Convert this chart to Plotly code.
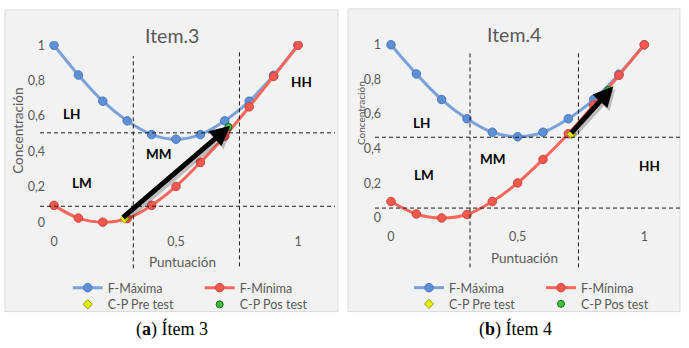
import plotly.graph_objects as go

# ---------------- data ----------------
puntuacion = [0.0, 0.1, 0.2, 0.3, 0.4, 0.5, 0.6, 0.7, 0.8, 0.9, 1.0]
f_maxima = [1.0, 0.832, 0.684, 0.573, 0.495, 0.469, 0.495, 0.573, 0.684, 0.83, 1.0]
f_minima = [0.095, 0.023, 0.0, 0.02, 0.095, 0.202, 0.338, 0.486, 0.652, 0.824, 1.0]

item3_pre = (0.29, 0.02)
item3_pos = (0.715, 0.54)
item4_pre = (0.713, 0.483)
item4_pos = (0.858, 0.74)

x_ticks = [0, 0.5, 1]
y_ticks = [0, 0.2, 0.4, 0.6, 0.8, 1]

item3_vlines = [0.325, 0.76]
item3_hlines = [0.505, 0.09]
item4_vlines = [0.312, 0.74]
item4_hlines = [0.466, 0.057]

item3_regions = {"LH": (0.07, 0.613), "MM": (0.432, 0.385), "HH": (1.015, 0.792), "LM": (0.113, 0.224)}
item4_regions = {"LH": (0.12, 0.551), "MM": (0.404, 0.341), "HH": (1.02, 0.30), "LM": (0.13, 0.25)}

# ---------------- styling ----------------
W, H = 689, 348
FONT = "Lato"
GREY = "#595959"
BLUE = "#7ba1d9"
BLUE_M = "#5f8fd4"
BLUE_O = "#4a78bd"
RED = "#f7675c"
RED_M = "#f2584d"
RED_O = "#c9463d"


def px(x):
    return x / W


def py(y):
    return 1 - y / H


fig = go.Figure()

panels = [
    dict(xa="x", ya="y", pre=item3_pre, pos=item3_pos, leg=("legend", "legend2"),
         vl=item3_vlines, hl=item3_hlines, reg=item3_regions, title="Item.3"),
    dict(xa="x2", ya="y2", pre=item4_pre, pos=item4_pos, leg=("legend3", "legend4"),
         vl=item4_vlines, hl=item4_hlines, reg=item4_regions, title="Item.4"),
]

for p in panels:
    fig.add_trace(go.Scatter(x=puntuacion, y=f_maxima, name="F-Máxima", mode="lines+markers",
                             line=dict(color=BLUE, width=3, shape="spline"),
                             marker=dict(size=8.5, color=BLUE_M, line=dict(color=BLUE_O, width=1)),
                             xaxis=p["xa"], yaxis=p["ya"], legend=p["leg"][0]))
    fig.add_trace(go.Scatter(x=puntuacion, y=f_minima, name="F-Mínima", mode="lines+markers",
                             line=dict(color=RED, width=3, shape="spline"),
                             marker=dict(size=8.5, color=RED_M, line=dict(color=RED_O, width=1)),
                             xaxis=p["xa"], yaxis=p["ya"], legend=p["leg"][0]))
    fig.add_trace(go.Scatter(x=[p["pre"][0]], y=[p["pre"][1]], name="C-P Pre test", mode="markers",
                             marker=dict(symbol="diamond", size=7, color="#e5f000",
                                         line=dict(color="#8f9a10", width=1)),
                             xaxis=p["xa"], yaxis=p["ya"], legend=p["leg"][1]))
    fig.add_trace(go.Scatter(x=[p["pos"][0]], y=[p["pos"][1]], name="C-P Pos test", mode="markers",
                             marker=dict(symbol="circle", size=7, color="#3cbf3c",
                                         line=dict(color="#1d6b1d", width=1)),
                             xaxis=p["xa"], yaxis=p["ya"], legend=p["leg"][1]))

# panel geometry (pixels)
geom = {
    "x": dict(dom=(46, 335), rng=(-0.0328, 1.1516)),
    "y": dict(dom=(228, 38), rng=(-0.0333, 1.0222)),
    "x2": dict(dom=(382, 677), rng=(-0.0355, 1.1291)),
    "y2": dict(dom=(223, 35), rng=(-0.0301, 1.0369)),
}

axis_common = dict(showgrid=False, zeroline=False, showline=False, ticks="",
                   tickfont=dict(family=FONT, size=12.5, color=GREY), fixedrange=True)

layout_axes = {}
for name, g in geom.items():
    key = ("xaxis" if name.startswith("x") else "yaxis") + name[1:]
    if name.startswith("x"):
        dom = [px(g["dom"][0]), px(g["dom"][1])]
        layout_axes[key] = dict(domain=dom, range=list(g["rng"]), tickvals=x_ticks,
                                anchor="y" + name[1:], ticklabelstandoff=4, **axis_common)
    else:
        dom = [py(g["dom"][0]), py(g["dom"][1])]
        layout_axes[key] = dict(domain=dom, range=list(g["rng"]), tickvals=y_ticks,
                                anchor="x" + name[1:], **axis_common)

shapes = []
# panel backgrounds
for (x0, y0, x1, y1) in [(5, 6, 338, 313), (348, 5, 680, 313)]:
    shapes.append(dict(type="rect", xref="paper", yref="paper", x0=px(x0), x1=px(x1),
                       y0=py(y1), y1=py(y0), fillcolor="#f2f2f2",
                       line=dict(color="#d9d9d9", width=1), layer="below"))

dash = dict(color="#1a1a1a", width=1, dash="4px,3px")
# vertical dividers (extend below the axis, as drawn in the original)
v_extent = {"x": [(53, 269), (47, 267)], "x2": [(48, 268), (48, 268)]}
h_extent = {"y": (40, 335), "y2": (375, 680)}
for p in panels:
    for xv, (t, b) in zip(p["vl"], v_extent[p["xa"]]):
        shapes.append(dict(type="line", xref=p["xa"], yref="paper", x0=xv, x1=xv,
                           y0=py(b), y1=py(t), line=dash))
    for yv in p["hl"]:
        l, r = h_extent[p["ya"]]
        shapes.append(dict(type="line", xref="paper", yref=p["ya"], x0=px(l), x1=px(r),
                           y0=yv, y1=yv, line=dash))

annotations = []
# titles
for txt, cx, cy in [("Item.3", 172, 32), ("Item.4", 514, 31.5)]:
    annotations.append(dict(text=txt, x=px(cx), y=py(cy), xref="paper", yref="paper",
                            showarrow=False, xanchor="center", yanchor="middle",
                            font=dict(family=FONT, size=19.5, color=GREY)))
# axis titles
for cx, cy in [(182, 263), (524, 258)]:
    annotations.append(dict(text="Puntuación", x=px(cx), y=py(cy), xref="paper", yref="paper",
                            showarrow=False, xanchor="center", yanchor="middle",
                            font=dict(family=FONT, size=13.5, color=GREY)))
for cx, cy, sz in [(18, 129, 13.5), (361, 111, 10)]:
    annotations.append(dict(text="Concentración", x=px(cx), y=py(cy), xref="paper", yref="paper",
                            showarrow=False, xanchor="center", yanchor="middle", textangle=-90,
                            font=dict(family=FONT, size=sz, color=GREY)))
# region labels
for p in panels:
    for lab, (rx, ry) in p["reg"].items():
        annotations.append(dict(text="<b>%s</b>" % lab, x=rx, y=ry, xref=p["xa"], yref=p["ya"],
                                showarrow=False, font=dict(family=FONT, size=13.5, color="#000000")))
# arrows (pre -> pos), with a soft shadow like the original
arrow_tail = {"x": (0.277, 0.02), "x2": (0.707, 0.483)}
arrow_head = {"x": (0.722, 0.545), "x2": (0.878, 0.76)}
for p in panels:
    tx, ty = arrow_tail[p["xa"]]
    hx, hy = arrow_head[p["xa"]]
    for color, xs, ys in [("rgba(0,0,0,0.22)", 2, -3), ("#000000", 0, 0)]:
        annotations.append(dict(text="", x=hx, y=hy, ax=tx, ay=ty, xref=p["xa"], yref=p["ya"],
                                axref=p["xa"], ayref=p["ya"], showarrow=True, arrowhead=2,
                                arrowsize=0.8, arrowwidth=5, arrowcolor=color, standoff=0,
                                xshift=xs, yshift=ys))
# captions
for a, cx in [("a", 171.5), ("b", 515)]:
    annotations.append(dict(text="(<b>%s</b>) Ítem %s" % (a, "3" if a == "a" else "4"),
                            x=px(cx), y=py(331), xref="paper", yref="paper", showarrow=False,
                            xanchor="center", yanchor="middle",
                            font=dict(family="Liberation Serif", size=18, color="#000000")))

leg_common = dict(orientation="h", xanchor="left", yanchor="middle", bgcolor="rgba(0,0,0,0)",
                  entrywidth=87, entrywidthmode="pixels",
                  font=dict(family=FONT, size=12.5, color=GREY), itemclick=False,
                  itemdoubleclick=False)

fig.update_layout(
    width=W, height=H, margin=dict(l=0, r=0, t=0, b=0),
    paper_bgcolor="#ffffff", plot_bgcolor="rgba(0,0,0,0)",
    separators=",.",
    showlegend=True,
    legend=dict(x=px(67.7), y=py(289), **leg_common),
    legend2=dict(x=px(67.7), y=py(306), **leg_common),
    legend3=dict(x=px(409), y=py(289), **leg_common),
    legend4=dict(x=px(409), y=py(305.5), **leg_common),
    shapes=shapes, annotations=annotations,
    **layout_axes,
)

fig.write_html("out.html", config={"displayModeBar": False},
               post_script="document.body.style.margin='0';document.body.style.padding='0';")
